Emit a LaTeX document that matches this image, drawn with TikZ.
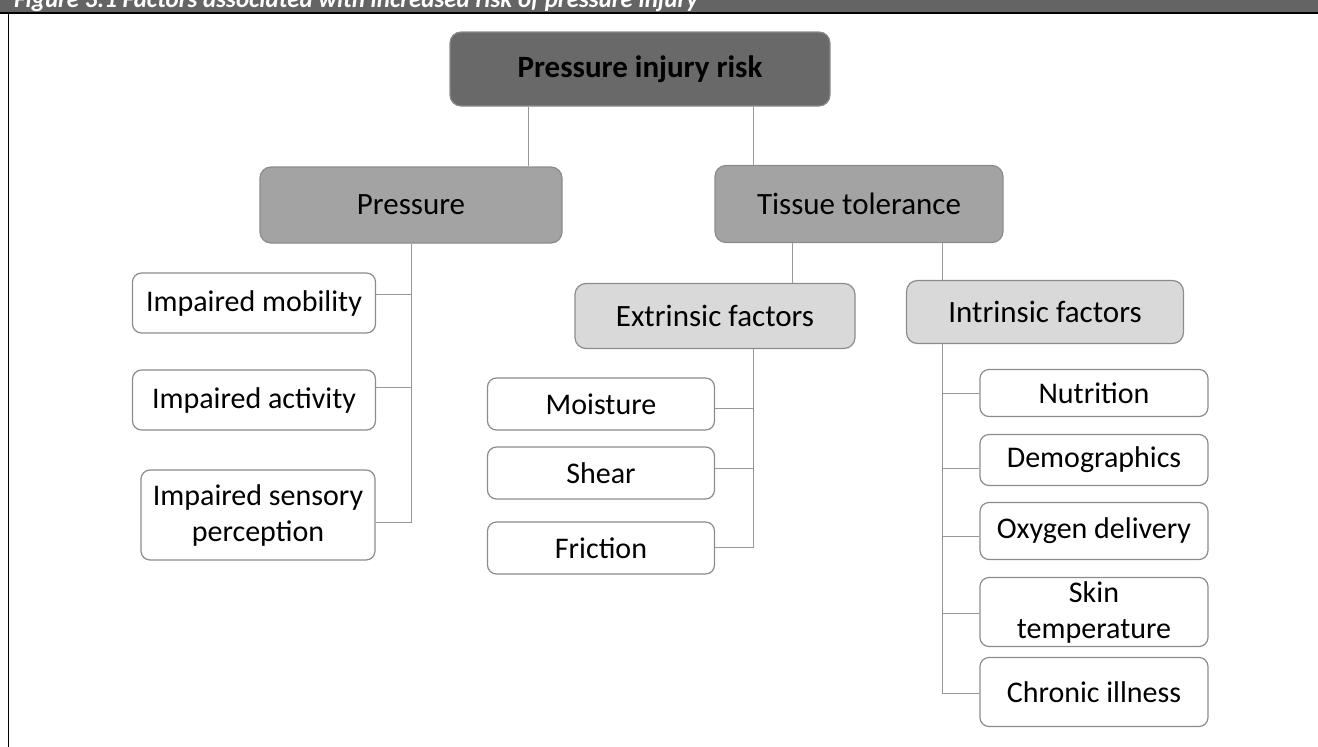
\documentclass[tikz,border=0pt]{standalone}
\usepackage{fontspec}
\setmainfont{Carlito}
\definecolor{barfill}{HTML}{646464}
\definecolor{rootfill}{HTML}{696969}
\definecolor{midfill}{HTML}{A3A3A3}
\definecolor{factfill}{HTML}{D9D9D9}
\definecolor{boxline}{HTML}{8C8C8C}
\definecolor{linkline}{HTML}{979797}
\tikzset{
  box/.style={draw=boxline, line width=1.2pt, rounded corners=11pt, align=center,
    inner sep=0pt, font=\fontsize{30}{36}\selectfont},
  rootbox/.style={box, fill=rootfill, font=\bfseries\fontsize{31}{36}\selectfont},
  midbox/.style={box, fill=midfill, font=\fontsize{31}{36}\selectfont},
  factbox/.style={box, fill=factfill, font=\fontsize{31}{36}\selectfont},
  leaf/.style={box, fill=white, rounded corners=9pt},
  link/.style={draw=linkline, line width=1pt}
}
\begin{document}
\begin{tikzpicture}[x=1pt, y=-1pt]
  \useasboundingbox (0,0) rectangle (1318,747);
  % Title bar
  \fill[barfill] (0,0) rectangle (1318,13);
  \begin{scope}
    \clip (0,0) rectangle (1318,13);
    \node[anchor=base west, inner sep=0pt, text=white,
      font=\bfseries\itshape\fontsize{25}{30}\selectfont] (title) at (14,7)
      {Figure 3.1 Factors associated with increased risk of pressure injury};
  \end{scope}
  \draw[line width=1.5pt] (0,13) -- (1318,13);
  \draw[line width=1pt] (8,13) -- (8,747);

  % Nodes
  \node[rootbox, minimum width=380pt, minimum height=74pt] (risk) at (640,69) {Pressure injury risk};
  \node[midbox, minimum width=302pt, minimum height=76pt] (pres) at (411,205) {Pressure};
  \node[midbox, minimum width=288pt, minimum height=77pt] (tiss) at (859,204) {Tissue tolerance};
  \node[factbox, minimum width=280pt, minimum height=65pt] (extr) at (715,316) {Extrinsic factors};
  \node[factbox, minimum width=277pt, minimum height=63pt] (intr) at (1045,312) {Intrinsic factors};

  \node[leaf, minimum width=243pt, minimum height=60pt] (mob) at (254,303) {Impaired mobility};
  \node[leaf, minimum width=243pt, minimum height=60pt] (act) at (254,400) {Impaired activity};
  \node[leaf, minimum width=234pt, minimum height=90pt] (sens) at (258,515) {Impaired sensory\\perception};

  \node[leaf, minimum width=227pt, minimum height=52pt] (moist) at (601,404) {Moisture};
  \node[leaf, minimum width=227pt, minimum height=52pt] (shear) at (601,473) {Shear};
  \node[leaf, minimum width=227pt, minimum height=52pt] (fric) at (601,548) {Friction};

  \node[leaf, minimum width=228pt, minimum height=47pt] (nutr) at (1094,393) {Nutrition};
  \node[leaf, minimum width=228pt, minimum height=51pt] (demo) at (1094,460) {Demographics};
  \node[leaf, minimum width=228pt, minimum height=57pt] (oxy) at (1094,531) {Oxygen delivery};
  \node[leaf, minimum width=228pt, minimum height=69pt] (skin) at (1094,612) {Skin\\temperature};
  \node[leaf, minimum width=228pt, minimum height=69pt] (chron) at (1094,692) {Chronic illness};

  % Connections
  \draw[link] (risk.south -| 528,0) -- (pres.north -| 528,0);
  \draw[link] (risk.south -| 753,0) -- (tiss.north -| 753,0);
  \draw[link] (tiss.south -| 792,0) -- (extr.north -| 792,0);
  \draw[link] (tiss.south -| 942,0) -- (intr.north -| 942,0);

  \draw[link] (pres.south) |- ([yshift=-7pt]sens.east);
  \draw[link] ([yshift=9pt]mob.east) -- ([yshift=9pt]mob.east -| pres.south);
  \draw[link] ([yshift=13pt]act.east) -- ([yshift=13pt]act.east -| pres.south);

  \draw[link] (extr.south -| 753,0) |- ([yshift=1pt]fric.east);
  \draw[link] ([yshift=-4pt]moist.east) -- ([yshift=-4pt]moist.east -| 753,0);
  \draw[link] ([yshift=5pt]shear.east) -- ([yshift=5pt]shear.east -| 753,0);

  \draw[link] (intr.south -| 942,0) |- ([yshift=-1pt]chron.west);
  \draw[link] (nutr.west) -- (nutr.west -| 942,0);
  \draw[link] ([yshift=-8pt]demo.west) -- ([yshift=-8pt]demo.west -| 942,0);
  \draw[link] ([yshift=-5pt]oxy.west) -- ([yshift=-5pt]oxy.west -| 942,0);
  \draw[link] ([yshift=-1pt]skin.west) -- ([yshift=-1pt]skin.west -| 942,0);
\end{tikzpicture}
\end{document}
